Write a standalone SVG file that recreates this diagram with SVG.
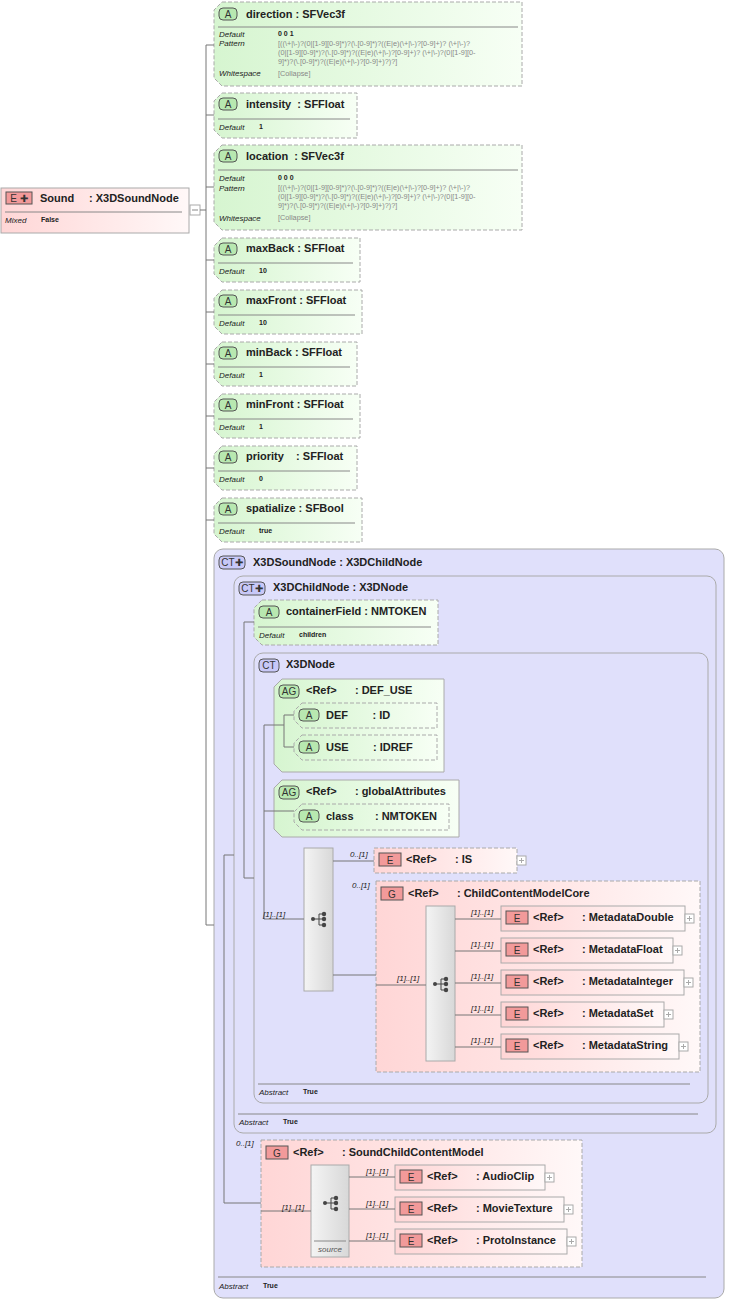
<svg xmlns="http://www.w3.org/2000/svg" width="729" height="1301" viewBox="0 0 729 1301">
<defs>
<linearGradient id="gA" x1="0" y1="0" x2="1" y2="0"><stop offset="0" stop-color="#d6f5d0"/><stop offset="1" stop-color="#f7fff5"/></linearGradient>
<linearGradient id="gE" x1="0" y1="0" x2="1" y2="0"><stop offset="0" stop-color="#ffd6d6"/><stop offset="1" stop-color="#fff8f8"/></linearGradient>
<linearGradient id="gS" x1="0" y1="0" x2="1" y2="0"><stop offset="0" stop-color="#f4f4f4"/><stop offset="1" stop-color="#d8d8d8"/></linearGradient>
<linearGradient id="gG" x1="0" y1="0" x2="1" y2="0"><stop offset="0" stop-color="#ffd6d6"/><stop offset="0.6" stop-color="#ffe8e8"/><stop offset="1" stop-color="#fff8f8"/></linearGradient>
<g id="seqicon"><circle cx="-6" cy="0" r="2" fill="#444"/><path d="M-6 0H0M0 -5V6M0 -5H4M0 0H4M0 6H4" stroke="#444" fill="none"/><circle cx="5" cy="-5" r="2.2" fill="#444"/><circle cx="5" cy="0" r="2.2" fill="#444"/><circle cx="5" cy="6" r="2.2" fill="#444"/></g>
<g id="plus"><rect x="0" y="0" width="9" height="9" fill="#fff" stroke="#aaa"/><path d="M2 4.5H7M4.5 2V7" stroke="#aaa"/></g>
</defs>
<style>
text{font-family:"Liberation Sans",Arial,sans-serif;fill:#222;white-space:pre}
.h{font-size:11px;font-weight:bold}
.k{font-size:8px;font-style:italic}
.v{font-size:7px;font-weight:bold}
.p{font-size:7.3px;fill:#888}
.lbl{font-size:8px;font-style:italic}
.att{fill:url(#gA);stroke:#aaa;stroke-dasharray:4 2}
.el{fill:url(#gE);stroke:#aaa}
.eld{fill:url(#gE);stroke:#aaa;stroke-dasharray:4 2}
.ct{fill:#e0e0fb;stroke:#aaa}
.ag{fill:url(#gA);stroke:#aaa}
.grp{fill:url(#gG);stroke:#aaa;stroke-dasharray:4 2}
.seq{fill:url(#gS);stroke:#aaa}
.sep{stroke:#888;stroke-width:1}
.badA{fill:#b8e8b0;stroke:#555}
.badE{fill:#f29a9a;stroke:#555}
.badC{fill:#c8c8f8;stroke:#555}
.bt{font-size:10px;text-anchor:middle;fill:#333}
.c{stroke:#777;fill:none}
</style>

<g id="sound">
<rect x="1" y="188" width="188" height="45" class="el"/>
<rect x="6" y="192" width="26" height="12" class="badE"/><text class="bt" x="19" y="202">E ✚</text>
<text class="h" x="40" y="202">Sound</text><text class="h" x="89" y="202">: X3DSoundNode</text>
<line class="sep" x1="5" y1="212" x2="182" y2="212"/>
<text class="k" x="5" y="223">Mixed</text><text class="v" x="41" y="222">False</text>
<rect x="190" y="205" width="10" height="10" fill="#fff" stroke="#aaa"/><path d="M192 210H198" stroke="#888"/>
</g>

<g id="direction">
<path class="att" d="M222 2H522V86H222L214 78V10Z"/>
<rect x="219" y="8" width="18" height="12" rx="4" class="badA"/><text class="bt" x="228" y="18">A</text>
<text class="h" x="246" y="18">direction : SFVec3f</text>
<line class="sep" x1="218" y1="27" x2="518" y2="27"/>
<text class="k" x="219" y="37">Default</text><text class="v" x="278" y="36">0 0 1</text>
<text class="k" x="219" y="46">Pattern</text>
<text class="p" x="278" y="46">[((\+|\-)?(0|[1-9][0-9]*)?(\.[0-9]*)?((E|e)(\+|\-)?[0-9]+)? (\+|\-)?</text>
<text class="p" x="278" y="55">(0|[1-9][0-9]*)?(\.[0-9]*)?((E|e)(\+|\-)?[0-9]+)? (\+|\-)?(0|[1-9][0-</text>
<text class="p" x="278" y="64">9]*)?(\.[0-9]*)?((E|e)(\+|\-)?[0-9]+)?)?]</text>
<text class="k" x="219" y="76">Whitespace</text><text class="p" x="278" y="76">[Collapse]</text>
</g>
<g id="intensity">
<path class="att" d="M222 93H357V138H222L214 130V101Z"/>
<rect x="219" y="98" width="18" height="12" rx="4" class="badA"/><text class="bt" x="228" y="108">A</text>
<text class="h" x="246" y="108">intensity  : SFFloat</text>
<line class="sep" x1="218" y1="119" x2="350" y2="119"/>
<text class="k" x="219" y="130">Default</text><text class="v" x="259" y="129">1</text>
</g>
<g id="location">
<path class="att" d="M222 145H522V230H222L214 222V153Z"/>
<rect x="219" y="150" width="18" height="12" rx="4" class="badA"/><text class="bt" x="228" y="160">A</text>
<text class="h" x="246" y="160">location  : SFVec3f</text>
<line class="sep" x1="218" y1="170" x2="518" y2="170"/>
<text class="k" x="219" y="181">Default</text><text class="v" x="278" y="180">0 0 0</text>
<text class="k" x="219" y="191">Pattern</text>
<text class="p" x="278" y="190">[((\+|\-)?(0|[1-9][0-9]*)?(\.[0-9]*)?((E|e)(\+|\-)?[0-9]+)? (\+|\-)?</text>
<text class="p" x="278" y="199">(0|[1-9][0-9]*)?(\.[0-9]*)?((E|e)(\+|\-)?[0-9]+)? (\+|\-)?(0|[1-9][0-</text>
<text class="p" x="278" y="208">9]*)?(\.[0-9]*)?((E|e)(\+|\-)?[0-9]+)?)?]</text>
<text class="k" x="219" y="221">Whitespace</text><text class="p" x="278" y="220">[Collapse]</text>
</g>
<g id="maxBack">
<path class="att" d="M222 238H360V282H222L214 274V246Z"/>
<rect x="219" y="243" width="18" height="12" rx="4" class="badA"/><text class="bt" x="228" y="253">A</text>
<text class="h" x="246" y="252">maxBack : SFFloat</text>
<line class="sep" x1="218" y1="263" x2="353" y2="263"/>
<text class="k" x="219" y="274">Default</text><text class="v" x="259" y="273">10</text>
</g>
<g id="maxFront">
<path class="att" d="M222 290H362V334H222L214 326V298Z"/>
<rect x="219" y="295" width="18" height="12" rx="4" class="badA"/><text class="bt" x="228" y="305">A</text>
<text class="h" x="246" y="304">maxFront : SFFloat</text>
<line class="sep" x1="218" y1="315" x2="355" y2="315"/>
<text class="k" x="219" y="326">Default</text><text class="v" x="259" y="325">10</text>
</g>
<g id="minBack">
<path class="att" d="M222 342H357V386H222L214 378V350Z"/>
<rect x="219" y="347" width="18" height="12" rx="4" class="badA"/><text class="bt" x="228" y="357">A</text>
<text class="h" x="246" y="356">minBack : SFFloat</text>
<line class="sep" x1="218" y1="367" x2="350" y2="367"/>
<text class="k" x="219" y="378">Default</text><text class="v" x="259" y="377">1</text>
</g>
<g id="minFront">
<path class="att" d="M222 394H360V438H222L214 430V402Z"/>
<rect x="219" y="399" width="18" height="12" rx="4" class="badA"/><text class="bt" x="228" y="409">A</text>
<text class="h" x="246" y="408">minFront : SFFloat</text>
<line class="sep" x1="218" y1="419" x2="353" y2="419"/>
<text class="k" x="219" y="430">Default</text><text class="v" x="259" y="429">1</text>
</g>
<g id="priority">
<path class="att" d="M222 446H357V490H222L214 482V454Z"/>
<rect x="219" y="451" width="18" height="12" rx="4" class="badA"/><text class="bt" x="228" y="461">A</text>
<text class="h" x="246" y="460">priority    : SFFloat</text>
<line class="sep" x1="218" y1="471" x2="350" y2="471"/>
<text class="k" x="219" y="482">Default</text><text class="v" x="259" y="481">0</text>
</g>
<g id="spatialize">
<path class="att" d="M222 498H362V542H222L214 534V506Z"/>
<rect x="219" y="503" width="18" height="12" rx="4" class="badA"/><text class="bt" x="228" y="513">A</text>
<text class="h" x="246" y="512">spatialize : SFBool</text>
<line class="sep" x1="218" y1="523" x2="355" y2="523"/>
<text class="k" x="219" y="534">Default</text><text class="v" x="259" y="533">true</text>
</g>

<g id="X3DSoundNode">
<rect x="214" y="549" width="510" height="749" rx="9" class="ct"/>
<rect x="219" y="556" width="26" height="13" rx="4" class="badC"/><text class="bt" x="232" y="566">CT✚</text>
<text class="h" x="253" y="566">X3DSoundNode : X3DChildNode</text>
<line class="sep" x1="218" y1="1277" x2="706" y2="1277"/>
<text class="k" x="219" y="1289">Abstract</text><text class="v" x="263" y="1288">True</text>
</g>
<g id="X3DChildNode">
<rect x="234" y="576" width="482" height="557" rx="9" class="ct"/>
<rect x="239" y="582" width="26" height="13" rx="4" class="badC"/><text class="bt" x="252" y="592">CT✚</text>
<text class="h" x="273" y="591">X3DChildNode : X3DNode</text>
<line class="sep" x1="238" y1="1114" x2="698" y2="1114"/>
<text class="k" x="239" y="1125">Abstract</text><text class="v" x="283" y="1124">True</text>
</g>
<g id="containerField">
<path class="att" d="M262 600H438V645H262L254 637V608Z"/>
<rect x="259" y="606" width="20" height="12" rx="4" class="badA"/><text class="bt" x="269" y="616">A</text>
<text class="h" x="286" y="615">containerField : NMTOKEN</text>
<line class="sep" x1="258" y1="627" x2="431" y2="627"/>
<text class="k" x="259" y="638">Default</text><text class="v" x="299" y="637">children</text>
</g>
<g id="X3DNode">
<rect x="254" y="653" width="454" height="450" rx="9" class="ct"/>
<rect x="259" y="659" width="20" height="13" rx="4" class="badC"/><text class="bt" x="269" y="669">CT</text>
<text class="h" x="286" y="668">X3DNode</text>
<line class="sep" x1="258" y1="1084" x2="690" y2="1084"/>
<text class="k" x="259" y="1095">Abstract</text><text class="v" x="303" y="1094">True</text>
</g>
<g id="DEF_USE">
<path class="ag" d="M282 679H444V772H282L274 764V687Z"/>
<rect x="279" y="685" width="20" height="13" rx="4" class="badA"/><text class="bt" x="289" y="695">AG</text>
<text class="h" x="306" y="694">&lt;Ref&gt;      : DEF_USE</text>
<path class="att" d="M302 703H437V728H302L294 720V711Z"/>
<rect x="299" y="709" width="20" height="12" rx="4" class="badA"/><text class="bt" x="309" y="719">A</text>
<text class="h" x="326" y="719">DEF        : ID</text>
<path class="att" d="M302 735H437V760H302L294 752V743Z"/>
<rect x="299" y="741" width="20" height="12" rx="4" class="badA"/><text class="bt" x="309" y="751">A</text>
<text class="h" x="326" y="751">USE        : IDREF</text>
</g>
<g id="globalAttributes">
<path class="ag" d="M282 780H459V837H282L274 829V788Z"/>
<rect x="279" y="786" width="20" height="13" rx="4" class="badA"/><text class="bt" x="289" y="796">AG</text>
<text class="h" x="306" y="795">&lt;Ref&gt;      : globalAttributes</text>
<path class="att" d="M302 804H449V830H302L294 822V812Z"/>
<rect x="299" y="810" width="20" height="12" rx="4" class="badA"/><text class="bt" x="309" y="820">A</text>
<text class="h" x="326" y="820">class       : NMTOKEN</text>
</g>
<g id="seq1">
<rect x="304" y="848" width="29" height="143" class="seq"/>
<use href="#seqicon" x="319" y="919"/>
</g>
<g id="IS">
<rect x="374" y="848" width="143" height="25" class="eld"/>
<rect x="379" y="853" width="22" height="13" class="badE"/><text class="bt" x="390" y="864">E</text>
<text class="h" x="406" y="863">&lt;Ref&gt;      : IS</text>
<use href="#plus" x="517" y="856"/>
</g>
<g id="ChildContentModelCore">
<rect x="376" y="881" width="324" height="191" class="grp"/>
<rect x="381" y="887" width="22" height="13" class="badE"/><text class="bt" x="392" y="898">G</text>
<text class="h" x="408" y="897">&lt;Ref&gt;      : ChildContentModelCore</text>
<rect x="426" y="906" width="29" height="155" class="seq"/>
<use href="#seqicon" x="441" y="984"/>
</g>
<g id="MetadataDouble"><rect x="501" y="906" width="184" height="25" class="el"/><rect x="506" y="911" width="22" height="13" class="badE"/><text class="bt" x="517" y="922">E</text><text class="h" x="533" y="921">&lt;Ref&gt;      : MetadataDouble</text><use href="#plus" x="685" y="914"/></g>
<g id="MetadataFloat"><rect x="501" y="938" width="172" height="25" class="el"/><rect x="506" y="943" width="22" height="13" class="badE"/><text class="bt" x="517" y="954">E</text><text class="h" x="533" y="953">&lt;Ref&gt;      : MetadataFloat</text><use href="#plus" x="673" y="946"/></g>
<g id="MetadataInteger"><rect x="501" y="970" width="183" height="25" class="el"/><rect x="506" y="975" width="22" height="13" class="badE"/><text class="bt" x="517" y="986">E</text><text class="h" x="533" y="985">&lt;Ref&gt;      : MetadataInteger</text><use href="#plus" x="684" y="978"/></g>
<g id="MetadataSet"><rect x="501" y="1002" width="163" height="25" class="el"/><rect x="506" y="1007" width="22" height="13" class="badE"/><text class="bt" x="517" y="1018">E</text><text class="h" x="533" y="1017">&lt;Ref&gt;      : MetadataSet</text><use href="#plus" x="664" y="1010"/></g>
<g id="MetadataString"><rect x="501" y="1034" width="178" height="25" class="el"/><rect x="506" y="1039" width="22" height="13" class="badE"/><text class="bt" x="517" y="1050">E</text><text class="h" x="533" y="1049">&lt;Ref&gt;      : MetadataString</text><use href="#plus" x="679" y="1042"/></g>
<g id="SoundChildContentModel">
<rect x="261" y="1140" width="321" height="127" class="grp"/>
<rect x="266" y="1146" width="22" height="13" class="badE"/><text class="bt" x="277" y="1157">G</text>
<text class="h" x="293" y="1156">&lt;Ref&gt;      : SoundChildContentModel</text>
<rect x="311" y="1165" width="38" height="92" class="seq"/>
<use href="#seqicon" x="331" y="1203"/>
<line class="sep" x1="314" y1="1241" x2="346" y2="1241"/>
<text x="330" y="1252" style="font-size:8px;font-style:italic;fill:#555;text-anchor:middle">source</text>
</g>
<g id="AudioClip"><rect x="395" y="1165" width="150" height="25" class="el"/><rect x="400" y="1170" width="22" height="13" class="badE"/><text class="bt" x="411" y="1181">E</text><text class="h" x="427" y="1180">&lt;Ref&gt;      : AudioClip</text><use href="#plus" x="545" y="1173"/></g>
<g id="MovieTexture"><rect x="395" y="1197" width="169" height="25" class="el"/><rect x="400" y="1202" width="22" height="13" class="badE"/><text class="bt" x="411" y="1213">E</text><text class="h" x="427" y="1212">&lt;Ref&gt;      : MovieTexture</text><use href="#plus" x="564" y="1205"/></g>
<g id="ProtoInstance"><rect x="395" y="1229" width="172" height="25" class="el"/><rect x="400" y="1234" width="22" height="13" class="badE"/><text class="bt" x="411" y="1245">E</text><text class="h" x="427" y="1244">&lt;Ref&gt;      : ProtoInstance</text><use href="#plus" x="567" y="1237"/></g>

<g id="connectors">
<path class="c" d="M200 210H206M206 45V925M206 45H214M206 115H214M206 187H214M206 260H214M206 312H214M206 364H214M206 416H214M206 468H214M206 520H214M206 925H214"/>
<path class="c" d="M224 855V1203M224 855H234M224 1203H261"/>
<path class="c" d="M244 622V878M244 622H254M244 878H254"/>
<path class="c" d="M264 725V919M264 725H284M284 715V747M284 715H294M284 747H294M264 811H294M264 919H304"/>
<path class="c" d="M333 861H374M333 975H376M376 985H426"/>
<path class="c" d="M455 919H501M455 951H501M455 983H501M455 1015H501M455 1047H501"/>
<path class="c" d="M261 1211H311M349 1177H395M349 1209H395M349 1241H395"/>
<text class="lbl" x="350" y="857">0..[1]</text>
<text class="lbl" x="352" y="888">0..[1]</text>
<text class="lbl" x="263" y="917">[1]..[1]</text>
<text class="lbl" x="397" y="981">[1]..[1]</text>
<text class="lbl" x="471" y="915">[1]..[1]</text>
<text class="lbl" x="471" y="947">[1]..[1]</text>
<text class="lbl" x="471" y="979">[1]..[1]</text>
<text class="lbl" x="471" y="1011">[1]..[1]</text>
<text class="lbl" x="471" y="1043">[1]..[1]</text>
<text class="lbl" x="236" y="1146">0..[1]</text>
<text class="lbl" x="282" y="1210">[1]..[1]</text>
<text class="lbl" x="366" y="1174">[1]..[1]</text>
<text class="lbl" x="366" y="1206">[1]..[1]</text>
<text class="lbl" x="366" y="1238">[1]..[1]</text>
</g>
</svg>
